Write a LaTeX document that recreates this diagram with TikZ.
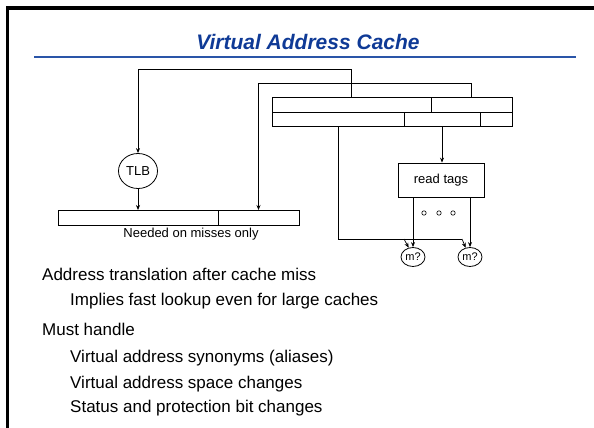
\documentclass[tikz,border=0pt]{standalone}
\usepackage{fontspec}
\setmainfont{Liberation Sans}
\usetikzlibrary{arrows.meta,positioning,shapes.geometric}
\definecolor{VacBlue}{HTML}{0F3A96}
\definecolor{VacRule}{HTML}{2A55A8}

\begin{document}
\begin{tikzpicture}[x=1pt,y=-1pt,
    field/.style={draw,line width=.8pt,inner sep=0pt,outer sep=0pt,minimum height=15pt},
    wire/.style={line width=.7pt},
    arr/.style={wire,-{Stealth[length=5pt,width=4pt]}},
    lbl/.style={font=\fontsize{13}{15}\selectfont},
    bullet/.style={anchor=base west,inner sep=0pt,font=\fontsize{17}{20}\selectfont}]
  \useasboundingbox (0,0) rectangle (594,428);

  % slide frame and title
  \fill (6,6) rectangle (594,10);
  \fill (6,6) rectangle (9,428);
  \node[anchor=base,text=VacBlue,font=\fontsize{21}{24}\selectfont\bfseries\itshape]
    (title) at (308,50) {Virtual Address Cache};
  \draw[VacRule,line width=2pt] (34,57) -- (576,57);

  % virtual address, two splits
  \node[field,minimum width=159pt] (va1) at (351.5,104.5) {};
  \node[field,minimum width=81pt] (va2) at (471.5,104.5) {};
  \node[field,minimum width=132pt,minimum height=14pt] (lo1) at (338,119) {};
  \node[field,minimum width=76pt,minimum height=14pt] (lo2) at (442,119) {};
  \node[field,minimum width=32pt,minimum height=14pt] (lo3) at (496,119) {};

  % physical address
  \node[field,minimum width=160pt] (pa1) at (138,217.5) {};
  \node[field,minimum width=81pt] (pa2) at (258.5,217.5) {};
  \node[lbl] (note) at (191,234) {Needed on misses only};

  \node[draw,ellipse,line width=.8pt,minimum width=39pt,minimum height=35pt,inner sep=0pt,lbl]
    (tlb) at (138,171) {TLB};
  \node[draw,line width=.8pt,minimum width=86pt,minimum height=34pt,lbl]
    (tags) at (441,180) {read tags};
  \node[draw,ellipse,line width=.8pt,minimum width=24pt,minimum height=19pt,inner sep=0pt,
    font=\fontsize{11}{13}\selectfont] (m1) at (413,257) {m?};
  \node[draw,ellipse,line width=.8pt,minimum width=24pt,minimum height=19pt,inner sep=0pt,
    font=\fontsize{11}{13}\selectfont] (m2) at (470,257) {m?};

  % connectors
  \draw[arr] (va1.north) -- ++(0,-28) -| (tlb.north);
  \draw[arr] (va2.north) -- ++(0,-14) -| (pa2.north);
  \draw[arr] (tlb.south) -- (pa1.north);
  \draw[arr] (lo2.south) -- (lo2.south |- tags.north);
  \draw[arr] (tags.south -| m1.north) -- (m1.north);
  \draw[arr] (tags.south -| m2.north) -- (m2.north);
  \coordinate (tap1) at (404,239);
  \coordinate (tap2) at (462,239);
  \draw[wire] (lo1.south) |- (tap2);
  \draw[arr] (tap1) -- (m1.115);
  \draw[arr] (tap2) -- (m2.115);
  \foreach \x in {424,439,453}
    \draw[line width=.6pt] (\x,213) circle (2.2pt);

  % bullet text
  \node[bullet] (b1) at (42,280) {Address translation after cache miss};
  \node[bullet] (b2) at (70,305) {Implies fast lookup even for large caches};
  \node[bullet] (b3) at (42,335) {Must handle};
  \node[bullet] (b4) at (70,362) {Virtual address synonyms (aliases)};
  \node[bullet] (b5) at (70,388) {Virtual address space changes};
  \node[bullet] (b6) at (70,412) {Status and protection bit changes};
\end{tikzpicture}
\end{document}
